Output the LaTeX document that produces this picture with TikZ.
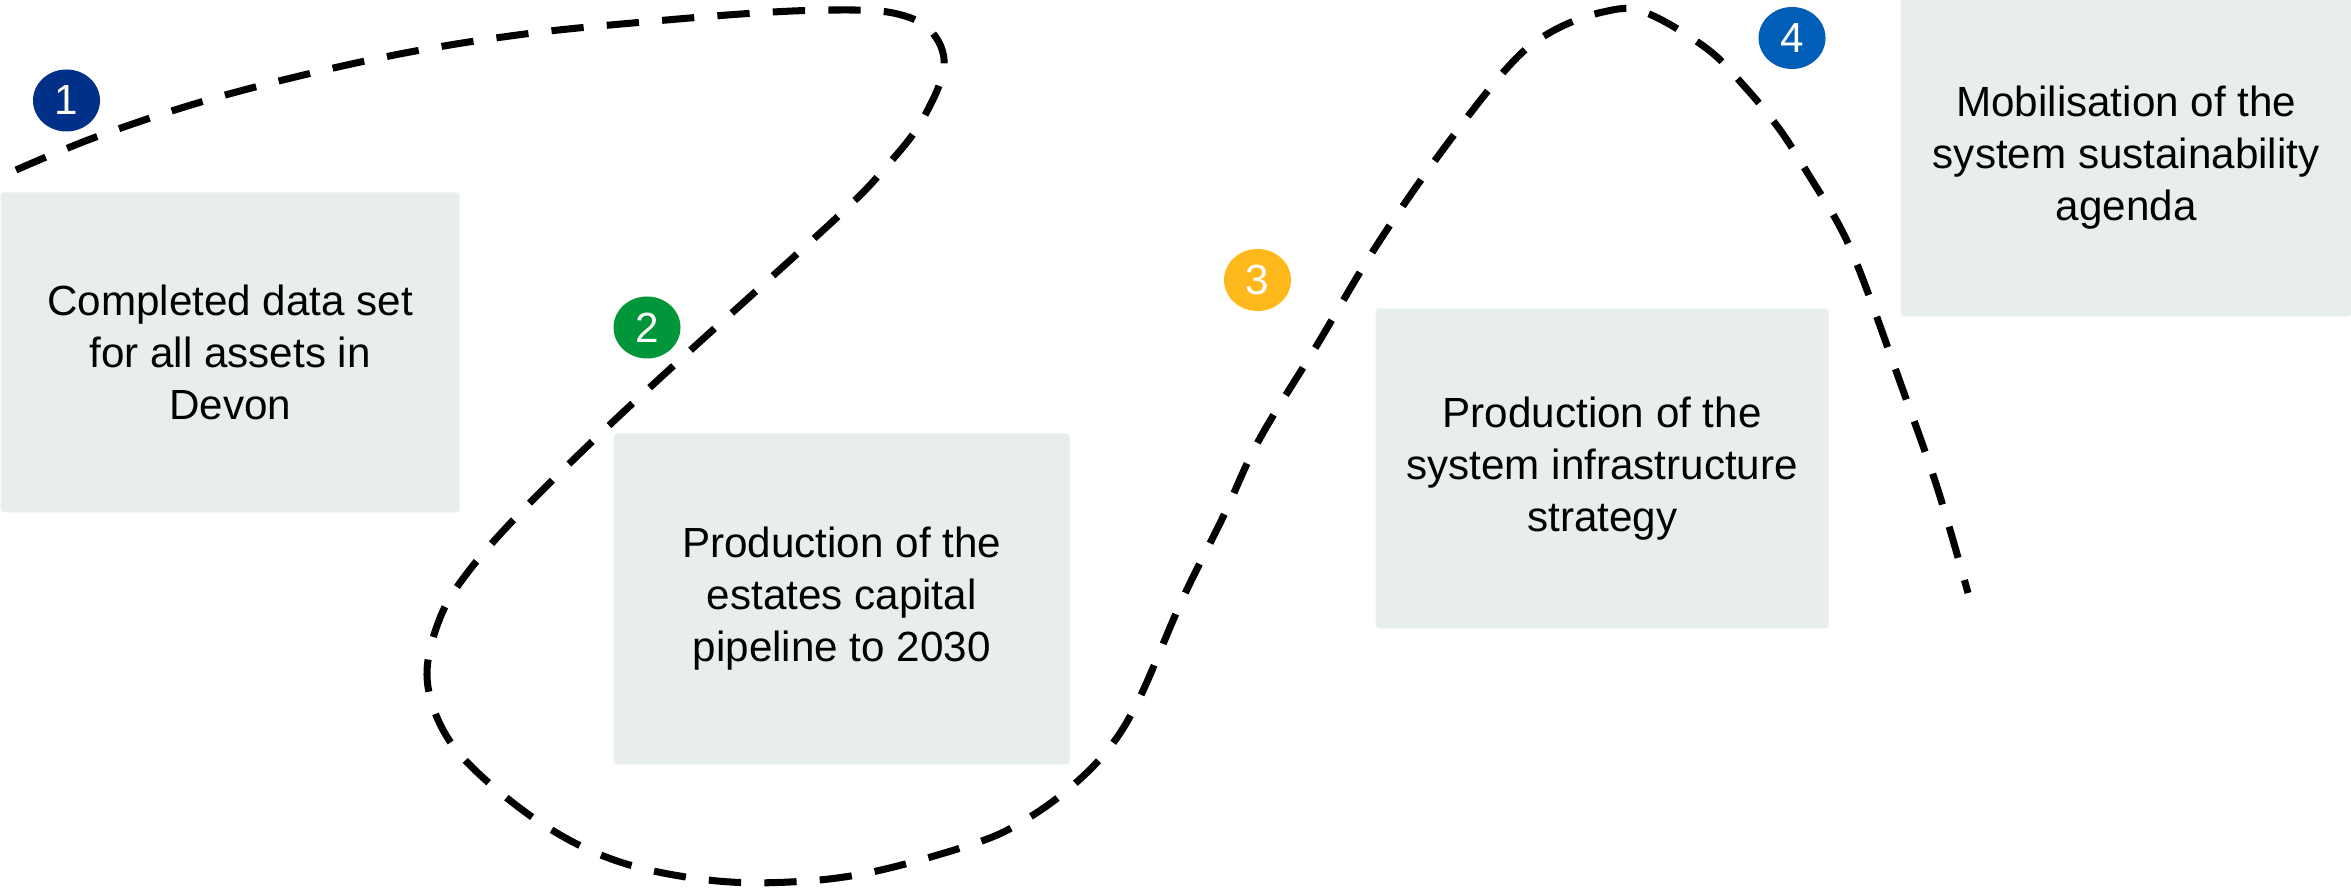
\documentclass[tikz,border=0pt]{standalone}
\usepackage{fontspec}
\setmainfont{Liberation Sans}
\usetikzlibrary{shapes.geometric}
\definecolor{boxgrey}{HTML}{E8EDEE}
\definecolor{nhsdark}{HTML}{003087}
\definecolor{nhsgreen}{HTML}{009639}
\definecolor{nhsyellow}{HTML}{FFB81C}
\definecolor{nhsblue}{HTML}{005EB8}
\begin{document}
\begin{tikzpicture}[x=1cm,y=1cm]
\tikzset{
  stagebox/.style={fill=boxgrey, rounded corners=1pt, inner sep=0pt, align=center, anchor=south west, font=\fontsize{12}{14.8}\selectfont},
  badge/.style={ellipse, minimum width=0.67cm, minimum height=0.62cm, inner sep=0pt, text=white, font=\fontsize{12}{14}\selectfont},
  pathline/.style={line width=2pt, dash pattern=on 9.2pt off 6.6pt}
}
\useasboundingbox (0,0) rectangle (23.51,8.89);
\node[stagebox, minimum width=4.59cm, minimum height=3.20cm] (b1) at (0,3.76) {Completed data set\\for all assets in\\Devon};
\node[stagebox, minimum width=4.56cm, minimum height=3.31cm] (b2) at (6.13,1.24) {Production of the\\estates capital\\pipeline to 2030};
\node[stagebox, minimum width=4.53cm, minimum height=3.20cm] (b3) at (13.75,2.60) {Production of the\\system infrastructure\\strategy};
\node[stagebox, minimum width=4.51cm, minimum height=3.17cm] (b4) at (19.00,5.72) {Mobilisation of the\\system sustainability\\agenda};
\draw[pathline] plot[smooth, tension=0.6] coordinates {
 (0.16,7.19) (0.96,7.52) (2.01,7.87) (3.12,8.16) (4.21,8.39) (5.33,8.56) (6.44,8.67)
 (7.56,8.76) (8.35,8.79) (8.93,8.76) (9.30,8.59) (9.44,8.22) (9.21,7.67) (8.86,7.22)
 (8.48,6.82) (7.65,6.06) (6.82,5.31) (5.99,4.54) (5.20,3.76) (4.68,3.17) (4.40,2.71)
 (4.27,2.14) (4.42,1.61) (4.78,1.16) (5.47,0.62) (6.20,0.27) (7.08,0.09) (7.90,0.07)
 (8.72,0.17) (9.76,0.46) (10.25,0.69) (10.71,1.02) (11.10,1.42) (11.40,1.92) (11.82,2.89)
 (12.23,3.72) (12.59,4.49) (13.17,5.44) (13.75,6.41) (14.39,7.34) (15.08,8.22) (15.51,8.57)
 (16.03,8.77) (16.44,8.77) (17.06,8.41) (17.45,8.02) (17.80,7.59) (18.10,7.12) (18.40,6.62)
 (18.62,6.12) (19.00,5.07) (19.37,4.02) (19.68,2.96)};
\node[badge, fill=nhsdark] (c1) at (0.665,7.885) {1};
\node[badge, fill=nhsgreen] (c2) at (6.47,5.615) {2};
\node[badge, fill=nhsyellow] (c3) at (12.575,6.09) {3};
\node[badge, fill=nhsblue] (c4) at (17.92,8.51) {4};
\end{tikzpicture}
\end{document}
